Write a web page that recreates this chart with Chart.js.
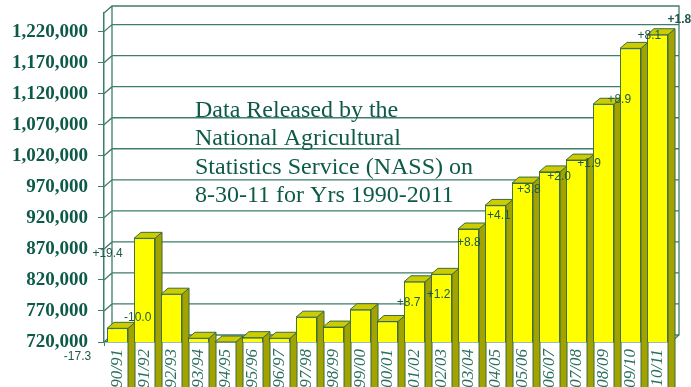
<!DOCTYPE html>
<html>
<head>
<meta charset="utf-8">
<script src="https://cdn.jsdelivr.net/npm/chart.js@4.4.0/dist/chart.umd.min.js"></script>
<style>
  html, body { margin: 0; padding: 0; background: #fff; }
</style>
</head>
<body>
<canvas id="target" width="691" height="387"></canvas>
<script>
// crop years
var years = ['90/91','91/92','92/93','93/94','94/95','95/96','96/97','97/98','98/99','99/00',
             '00/01','01/02','02/03','03/04','04/05','05/06','06/07','07/08','08/09','09/10','10/11'];

// acres
var acres = [742000, 887000, 797000, 726000, 720000, 727000, 726000, 760000, 744000, 772000,
             753000, 817000, 829000, 902000, 940000, 976000, 994000, 1013000, 1103000, 1193000, 1215000];

// % change labels shown next to the bars
var changeLabels = ['-17.3','+19.4','-10.0','','','','','','','',
                    '','+8.7','+1.2','+8.8','+4.1','+3.8','+2.0','+1.9','+8.9','+8.1','+1.8'];

var yTicks = [720000, 770000, 820000, 870000, 920000, 970000, 1020000, 1070000, 1120000, 1170000, 1220000];

var noteLines = [
  'Data Released by the',
  'National Agricultural',
  'Statistics Service (NASS) on',
  '8-30-11 for Yrs 1990-2011'
];

var lineColor = '#3f7d6c';
var textColor = '#0e5a48';
var wallX = 8, wallY = 7;     // back wall offset
var depthX = 7, depthY = 6;   // bar depth

function commas(v) {
  return String(v).replace(/\B(?=(\d{3})+(?!\d))/g, ',');
}

var threeD = {
  id: 'threeD',
  beforeDatasetsDraw: function(chart) {
    var c = chart.ctx, a = chart.chartArea, y = chart.scales.y;
    c.save();
    c.strokeStyle = lineColor;
    c.lineWidth = 1.3;
    c.beginPath();
    // back wall + floor outline
    c.moveTo(a.left, a.top);
    c.lineTo(a.left + wallX, a.top - wallY);
    c.lineTo(a.right + wallX, a.top - wallY);
    c.lineTo(a.right + wallX, a.bottom - wallY);
    c.lineTo(a.right, a.bottom);
    c.moveTo(a.left + wallX, a.top - wallY);
    c.lineTo(a.left + wallX, a.bottom - wallY);
    // grid lines on the back wall
    y.ticks.forEach(function(t) {
      var py = y.getPixelForValue(t.value);
      c.moveTo(a.left, py);
      c.lineTo(a.left + wallX, py - wallY);
      c.lineTo(a.right + wallX, py - wallY);
    });
    c.stroke();

    // note text
    c.fillStyle = textColor;
    c.font = '24px "Liberation Serif"';
    c.textAlign = 'left';
    c.textBaseline = 'alphabetic';
    noteLines.forEach(function(line, i) {
      c.fillText(line, a.left + 91, a.top + 104 + i * 28.3);
    });

    // bar tops and sides
    c.strokeStyle = '#3b6b3f';
    c.lineWidth = 1;
    var meta = chart.getDatasetMeta(0);
    meta.data.forEach(function(bar) {
      var half = bar.width / 2;
      var l = bar.x - half, r = bar.x + half;
      var t = Math.min(bar.y, bar.base), b = bar.base;
      var flat = (b - t) < 1;
      c.fillStyle = '#a3a300';
      c.beginPath();
      c.moveTo(r, t);
      c.lineTo(r + depthX, t - depthY);
      c.lineTo(r + depthX, b - depthY);
      c.lineTo(r, b);
      c.closePath();
      c.fill();
      c.stroke();
      c.fillStyle = flat ? '#9a9a5a' : '#cccc00';
      c.beginPath();
      c.moveTo(l, t);
      c.lineTo(l + depthX, t - depthY);
      c.lineTo(r + depthX, t - depthY);
      c.lineTo(r, t);
      c.closePath();
      c.fill();
      c.stroke();
    });
    c.restore();
  },
  afterDatasetsDraw: function(chart) {
    // % labels sit on their own (hidden) pair of scales
    var c = chart.ctx, lx = chart.scales.x2, ly = chart.scales.y2;
    c.save();
    c.fillStyle = '#1d5a4c';
    c.textAlign = 'center';
    c.textBaseline = 'middle';
    changeLabels.forEach(function(txt, i) {
      if (!txt) return;
      c.font = (i === changeLabels.length - 1 ? 'bold ' : '') + '12px "Liberation Sans"';
      c.fillText(txt, lx.getPixelForValue(i), ly.getPixelForValue(acres[i]));
    });
    c.restore();
  }
};

var chart = new Chart(document.getElementById('target'), {
  type: 'bar',
  data: {
    labels: years,
    datasets: [{
      data: acres,
      backgroundColor: '#ffff00',
      borderColor: '#3b6b3f',
      borderWidth: 1,
      barPercentage: 0.78,
      categoryPercentage: 1
    }]
  },
  options: {
    responsive: false,
    animation: false,
    layout: { padding: { left: 6, right: 20, top: 13, bottom: 0 } },
    plugins: {
      legend: { display: false },
      tooltip: { enabled: false }
    },
    scales: {
      x: {
        grid: { drawOnChartArea: false, offset: true, tickLength: 4, color: lineColor },
        border: { color: lineColor, width: 1.5 },
        ticks: {
          minRotation: 90,
          maxRotation: 90,
          autoSkip: false,
          padding: 3,
          color: '#2b6f60',
          font: { family: '"Liberation Serif"', size: 17, style: 'italic' }
        },
        afterFit: function(s) { s.height = 45; s.paddingLeft = 0; s.paddingRight = 0; }
      },
      y: {
        min: 720000,
        max: 1250000,
        afterBuildTicks: function(s) {
          s.ticks = yTicks.map(function(v) { return { value: v }; });
        },
        grid: { drawOnChartArea: false, tickLength: 6, color: lineColor },
        border: { color: lineColor, width: 1.5 },
        ticks: {
          padding: 10,
          color: textColor,
          font: { family: '"Liberation Serif"', size: 19, weight: 'bold' },
          callback: function(v) { return commas(v); }
        },
        afterFit: function(s) { s.width = 98; s.paddingTop = 0; s.paddingBottom = 0; }
      },
      x2: { type: 'linear', position: 'bottom', display: false, offset: false, grid: { offset: false },
            bounds: 'data', min: 0.88, max: 19.72 },
      y2: { type: 'linear', position: 'left', display: false, bounds: 'data', min: 762400, max: 1224500 }
    }
  },
  plugins: [threeD]
});
</script>
</body>
</html>
